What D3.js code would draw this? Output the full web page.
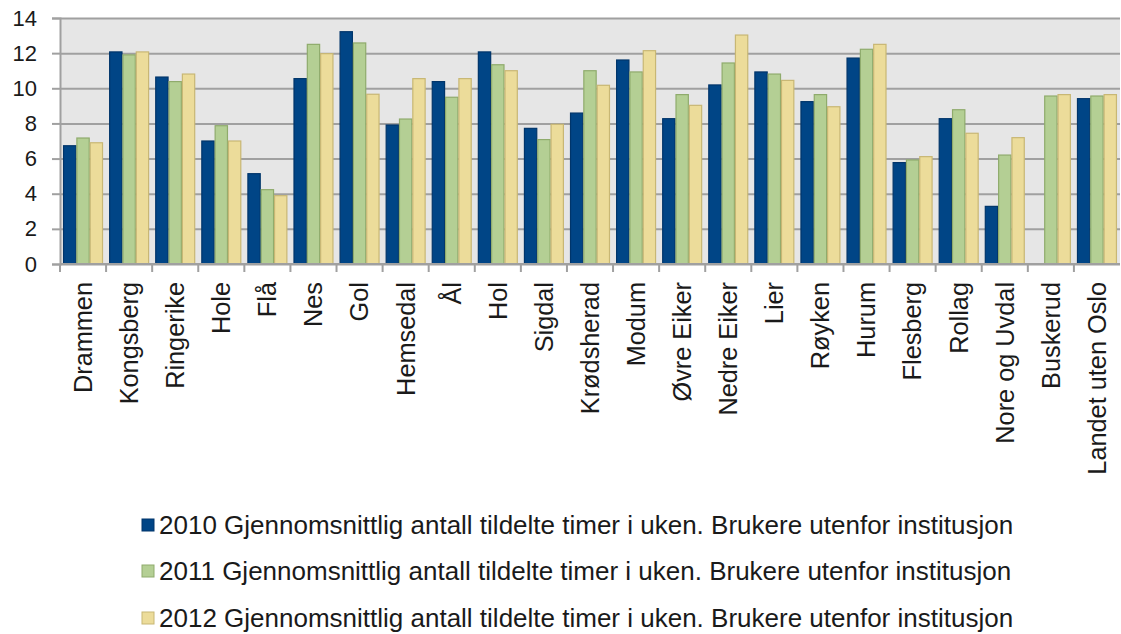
<!DOCTYPE html>
<html>
<head>
<meta charset="utf-8">
<script src="https://cdn.jsdelivr.net/npm/d3@7"></script>
<style>
  body { margin: 0; background: #fff; }
  svg { display: block; font-family: "Liberation Sans", Arial, sans-serif; }
  .grid line { stroke: #a0a0a0; stroke-width: 2; }
  .grid path { display: none; }
  .axis path, .axis line { stroke: #a0a0a0; stroke-width: 2; }
  .axis text { fill: #1a1a1a; }
</style>
</head>
<body>
<div id="chart"></div>
<script>
/* ── DATA ── */
const categories = ['Drammen','Kongsberg','Ringerike','Hole','Flå','Nes','Gol','Hemsedal','Ål','Hol',
  'Sigdal','Krødsherad','Modum','Øvre Eiker','Nedre Eiker','Lier','Røyken','Hurum','Flesberg',
  'Rollag','Nore og Uvdal','Buskerud','Landet uten Oslo'];

const values2010 = [6.73,12.07,10.64,7.0,5.14,10.55,13.22,7.91,10.38,12.07,7.72,8.59,11.61,8.27,10.19,
  10.93,9.24,11.72,5.77,8.27,3.28,null,9.41];
const values2011 = [7.17,11.9,10.38,7.87,4.23,12.5,12.58,8.25,9.49,11.34,7.08,11.0,10.93,9.64,11.44,
  10.81,9.64,12.22,5.92,8.78,6.2,9.56,9.56];
const values2012 = [6.9,12.07,10.81,7.0,3.89,11.97,9.66,10.55,10.55,11.0,7.95,10.17,12.14,9.03,13.03,
  10.45,8.95,12.5,6.11,7.44,7.19,9.64,9.64];

const seriesNames = [
  '2010 Gjennomsnittlig antall tildelte timer i uken. Brukere utenfor institusjon',
  '2011 Gjennomsnittlig antall tildelte timer i uken. Brukere utenfor institusjon',
  '2012 Gjennomsnittlig antall tildelte timer i uken. Brukere utenfor institusjon'
];
const yTicks = [0, 2, 4, 6, 8, 10, 12, 14];

const FILLS   = ['#004586', '#b4cf94', '#ecdc9a'];
const STROKES = ['#00356a', '#8fab6c', '#c8b774'];

/* ── LAYOUT ── */
const W = 1121, H = 634;
const margin = { top: 18, right: 1, bottom: 370, left: 60 };
const iW = W - margin.left - margin.right;
const iH = H - margin.top - margin.bottom;

const series = [values2010, values2011, values2012];

const x  = d3.scaleBand().domain(categories).range([0, iW]).paddingInner(0).paddingOuter(0);
const xs = d3.scaleBand().domain([0, 1, 2]).range([0, x.bandwidth()]).paddingOuter(0.23).paddingInner(0);
const y  = d3.scaleLinear().domain([0, 14]).range([iH, 0]);

const svg = d3.select('#chart').append('svg').attr('width', W).attr('height', H);
const g = svg.append('g').attr('transform', `translate(${margin.left},${margin.top})`);

// plot background
g.append('rect').attr('width', iW).attr('height', iH).attr('fill', '#e6e6e6');

// grid
g.append('g').attr('class', 'grid')
  .call(d3.axisLeft(y).tickValues(yTicks).tickSize(-iW).tickFormat(''));

// bars
series.forEach((vals, si) => {
  const data = categories.map((c, i) => ({ c, v: vals[i] })).filter(d => d.v != null);
  g.selectAll(`.bar-${si}`).data(data).enter().append('rect')
    .attr('class', `bar-${si}`)
    .attr('x', d => x(d.c) + xs(si) + 0.5)
    .attr('y', d => y(d.v))
    .attr('width', xs.bandwidth() - 1)
    .attr('height', d => iH - y(d.v))
    .attr('fill', FILLS[si])
    .attr('stroke', STROKES[si])
    .attr('stroke-width', 1.2);
});

// y axis
const ya = g.append('g').attr('class', 'axis')
  .call(d3.axisLeft(y).tickValues(yTicks).tickSize(8).tickPadding(15));
ya.selectAll('text').attr('font-size', 22);

// x axis: ticks at category boundaries
const xa = g.append('g').attr('class', 'axis').attr('transform', `translate(0,${iH})`);
xa.append('line').attr('x1', 0).attr('x2', iW).attr('y1', 0).attr('y2', 0)
  .attr('stroke', '#a0a0a0').attr('stroke-width', 2);
xa.selectAll('.xt').data(categories).enter().append('line')
  .attr('class', 'xt')
  .attr('x1', d => x(d)).attr('x2', d => x(d))
  .attr('y1', 0).attr('y2', 8)
  .attr('stroke', '#a0a0a0').attr('stroke-width', 2);
xa.selectAll('.xl').data(categories).enter().append('text')
  .attr('class', 'xl')
  .attr('transform', d => `translate(${x(d) + x.bandwidth() / 2},18) rotate(-90)`)
  .attr('text-anchor', 'end')
  .attr('dy', '0.35em')
  .attr('font-size', 25.3)
  .attr('fill', '#1a1a1a')
  .text(d => d);

// legend
const legendY = [525, 571, 618];
const legend = svg.append('g');
seriesNames.forEach((name, i) => {
  legend.append('rect')
    .attr('x', 142).attr('y', legendY[i] - 6)
    .attr('width', 12).attr('height', 12)
    .attr('fill', FILLS[i]).attr('stroke', STROKES[i]).attr('stroke-width', 1);
  legend.append('text')
    .attr('x', 159).attr('y', legendY[i])
    .attr('dy', '0.35em')
    .attr('font-size', 26)
    .attr('fill', '#1a1a1a')
    .text(name);
});
</script>
</body>
</html>
